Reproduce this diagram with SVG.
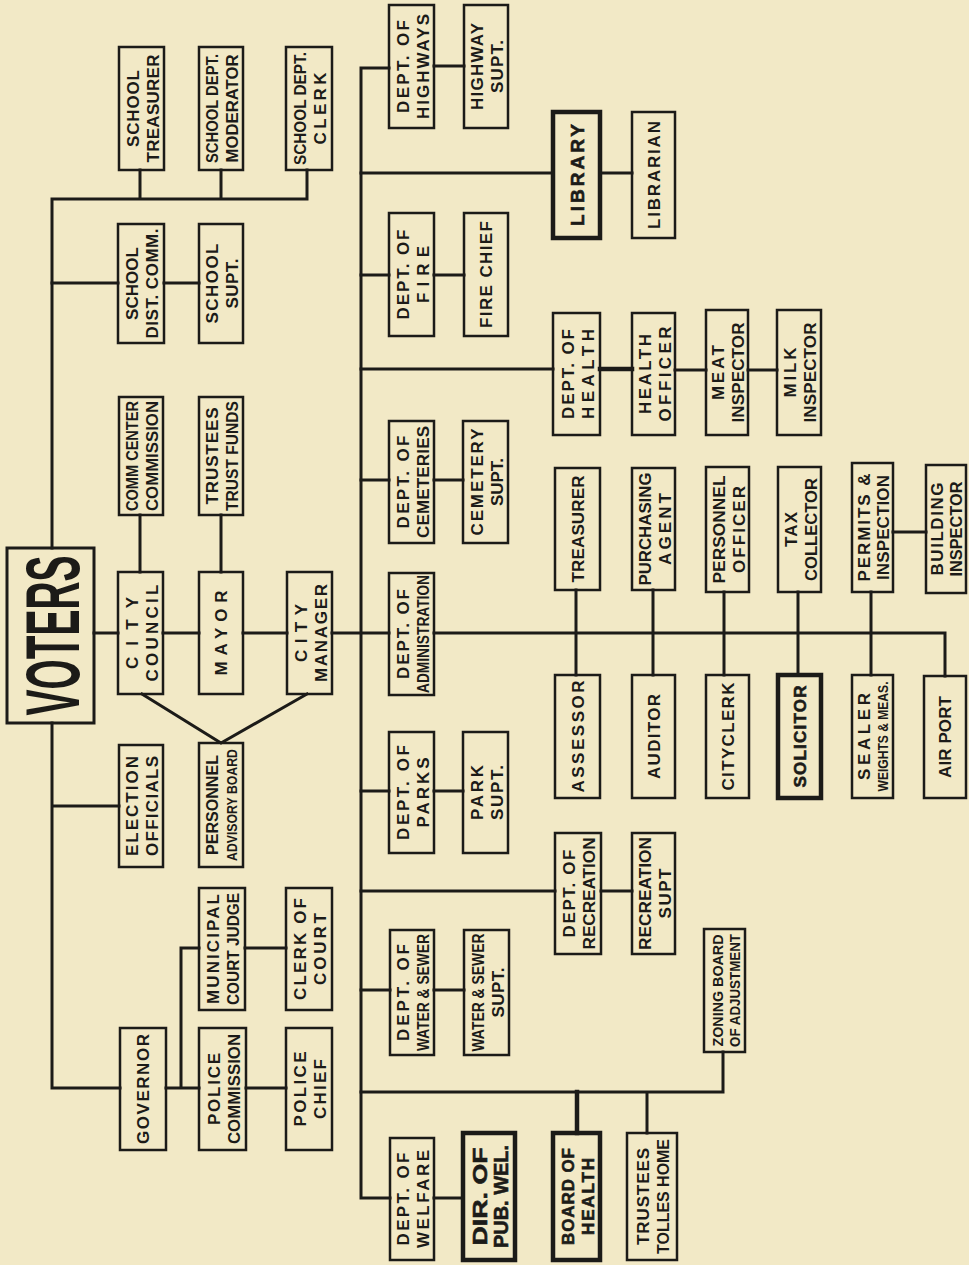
<svg xmlns="http://www.w3.org/2000/svg" width="969" height="1265" viewBox="0 0 969 1265">
<style>
.n rect{fill:none;stroke:#1c1b18;stroke-width:2.5}
.n.k rect{stroke-width:4.5}
.n text{font-family:"Liberation Sans",Arial,sans-serif;font-weight:bold;font-size:17px;fill:#1c1b18;text-anchor:middle}
.n text.s{font-size:14px}
.n.k text{stroke:#1c1b18;stroke-width:0.6}
.c path{fill:none;stroke:#1c1b18;stroke-width:3;stroke-linecap:square;stroke-linejoin:miter}
.c path.h{stroke-width:4.5}
</style>
<rect width="969" height="1265" fill="#F2E9C6"/>
<g id="connectors" class="c">
<path d="M52,548 V199 H307 V170 M140,199 V170 M221,199 V170"/>
<path d="M52,283 H118 M164,283 H199"/>
<path d="M52,723 V1088 H120 M52,806 H119"/>
<path d="M166,1088 H199 M246,1088 H286 M181,1088 V948 H199 M245,948 H286"/>
<path d="M94,633 H118 M163,633 H199 M243,633 H287 M332,633 H389 M434,633 H945 V676"/>
<path d="M140,515 V572 M221,515 V572"/>
<path d="M142,694 L221,743 L307,694"/>
<path d="M389,68 H361 V1198 H390 M434,66 H464"/>
<path d="M361,173 H553 M600,173 H632"/>
<path d="M361,275 H389 M434,275 H464"/>
<path d="M361,369 H553 M675,370 H706 M748,370 H777"/>
<path class="h" d="M600,369 H632"/>
<path d="M361,480 H389 M434,480 H463"/>
<path d="M361,791 H389 M434,791 H463"/>
<path d="M361,891 H555 M601,891 H632"/>
<path d="M361,990 H390 M434,990 H464"/>
<path d="M361,1092 H723 V1052 M647,1092 V1133"/>
<path class="h" d="M577,1092 V1133"/>
<path d="M434,1198 H463"/>
<path d="M576,590 V675 M653,590 V675 M724,592 V675 M798,592 V675 M871,592 V675"/>
<path d="M893,532 H926"/>
</g>

<g id="voters" class="n" transform="translate(50.5 635.5)"><rect x="-43.5" y="-87.5" width="87" height="175" style="stroke-width:3"/><g transform="rotate(-90)"><text y="28" textLength="160" lengthAdjust="spacingAndGlyphs" style="font-size:76px">VOTERS</text></g></g>

<g id="school-treasurer" class="n" transform="translate(141.5 108.5)"><rect x="-22.5" y="-61.5" width="45" height="123"/><g transform="rotate(-90)"><text y="-3" textLength="77">SCHOOL</text><text y="17" textLength="108">TREASURER</text></g></g>
<g id="school-dept-moderator" class="n" transform="translate(221 108.5)"><rect x="-22" y="-61.5" width="44" height="123"/><g transform="rotate(-90)"><text y="-3" textLength="109" lengthAdjust="spacingAndGlyphs">SCHOOL DEPT.</text><text y="17" textLength="108" lengthAdjust="spacingAndGlyphs">MODERATOR</text></g></g>
<g id="school-dept-clerk" class="n" transform="translate(309 108.5)"><rect x="-23" y="-61.5" width="46" height="123"/><g transform="rotate(-90)"><text y="-3" textLength="113" lengthAdjust="spacingAndGlyphs">SCHOOL DEPT.</text><text y="17" textLength="72">CLERK</text></g></g>
<g id="school-dist-comm" class="n" transform="translate(141 283.5)"><rect x="-23" y="-59.5" width="46" height="119"/><g transform="rotate(-90)"><text y="-3" textLength="73">SCHOOL</text><text y="17" textLength="110">DIST. COMM.</text></g></g>
<g id="school-supt" class="n" transform="translate(221 283.5)"><rect x="-22" y="-59.5" width="44" height="119"/><g transform="rotate(-90)"><text y="-3" textLength="80">SCHOOL</text><text y="17" textLength="50">SUPT.</text></g></g>
<g id="comm-center-commission" class="n" transform="translate(141 456)"><rect x="-22" y="-59" width="44" height="118"/><g transform="rotate(-90)"><text y="-3" textLength="110" lengthAdjust="spacingAndGlyphs">COMM CENTER</text><text y="17" textLength="110" lengthAdjust="spacingAndGlyphs">COMMISSION</text></g></g>
<g id="trustees-trust-funds" class="n" transform="translate(221 456)"><rect x="-22" y="-59" width="44" height="118"/><g transform="rotate(-90)"><text y="-3" textLength="97">TRUSTEES</text><text y="17" textLength="110" lengthAdjust="spacingAndGlyphs">TRUST FUNDS</text></g></g>
<g id="city-council" class="n" transform="translate(140.5 633)"><rect x="-22.5" y="-61" width="45" height="122"/><g transform="rotate(-90)"><text y="-3" textLength="72">CITY</text><text y="17" textLength="97">COUNCIL</text></g></g>
<g id="mayor" class="n" transform="translate(221 633)"><rect x="-22" y="-61" width="44" height="122"/><g transform="rotate(-90)"><text y="6" textLength="85">MAYOR</text></g></g>
<g id="city-manager" class="n" transform="translate(309.5 633)"><rect x="-22.5" y="-61" width="45" height="122"/><g transform="rotate(-90)"><text y="-3" textLength="58">CITY</text><text y="17" textLength="98">MANAGER</text></g></g>
<g id="election-officials" class="n" transform="translate(141 806)"><rect x="-22" y="-61" width="44" height="122"/><g transform="rotate(-90)"><text y="-3" textLength="100">ELECTION</text><text y="17" textLength="100">OFFICIALS</text></g></g>
<g id="personnel-advisory-board" class="n" transform="translate(221 805)"><rect x="-22" y="-62" width="44" height="124"/><g transform="rotate(-90)"><text y="-3" textLength="100" lengthAdjust="spacingAndGlyphs">PERSONNEL</text><text class="s" y="16" textLength="112" lengthAdjust="spacingAndGlyphs">ADVISORY BOARD</text></g></g>
<g id="municipal-court-judge" class="n" transform="translate(222 949)"><rect x="-23" y="-61" width="46" height="122"/><g transform="rotate(-90)"><text y="-3" textLength="110">MUNICIPAL</text><text y="17" textLength="112" lengthAdjust="spacingAndGlyphs">COURT JUDGE</text></g></g>
<g id="clerk-of-court" class="n" transform="translate(309 949)"><rect x="-23" y="-61" width="46" height="122"/><g transform="rotate(-90)"><text y="-3" textLength="102">CLERK OF</text><text y="17" textLength="72">COURT</text></g></g>
<g id="governor" class="n" transform="translate(143 1089)"><rect x="-23" y="-61" width="46" height="122"/><g transform="rotate(-90)"><text y="6" textLength="110">GOVERNOR</text></g></g>
<g id="police-commission" class="n" transform="translate(222.5 1089)"><rect x="-23.5" y="-61" width="47" height="122"/><g transform="rotate(-90)"><text y="-3" textLength="72">POLICE</text><text y="17" textLength="110" lengthAdjust="spacingAndGlyphs">COMMISSION</text></g></g>
<g id="police-chief" class="n" transform="translate(309 1089)"><rect x="-23" y="-61" width="46" height="122"/><g transform="rotate(-90)"><text y="-3" textLength="75">POLICE</text><text y="17" textLength="60">CHIEF</text></g></g>

<g id="dept-highways" class="n" transform="translate(411.5 66.5)"><rect x="-22.5" y="-61.5" width="45" height="123"/><g transform="rotate(-90)"><text y="-3" textLength="93">DEPT. OF</text><text y="17" textLength="105">HIGHWAYS</text></g></g>
<g id="highway-supt" class="n" transform="translate(486 66.5)"><rect x="-22" y="-61.5" width="44" height="123"/><g transform="rotate(-90)"><text y="-3" textLength="87">HIGHWAY</text><text y="17" textLength="53">SUPT.</text></g></g>
<g id="library" class="n k" transform="translate(576.5 175)"><rect x="-23.5" y="-63" width="47" height="126"/><g transform="rotate(-90)"><text y="7" textLength="102" style="font-size:19px">LIBRARY</text></g></g>
<g id="librarian" class="n" transform="translate(653.5 175)"><rect x="-21.5" y="-63" width="43" height="126"/><g transform="rotate(-90)"><text y="6" textLength="108">LIBRARIAN</text></g></g>
<g id="dept-fire" class="n" transform="translate(411.5 274.5)"><rect x="-22.5" y="-61.5" width="45" height="123"/><g transform="rotate(-90)"><text y="-3" textLength="90">DEPT. OF</text><text y="17" textLength="57">FIRE</text></g></g>
<g id="fire-chief" class="n" transform="translate(486 274.5)"><rect x="-22" y="-61.5" width="44" height="123"/><g transform="rotate(-90)"><text y="6" textLength="107">FIRE CHIEF</text></g></g>
<g id="dept-health" class="n" transform="translate(576.5 374)"><rect x="-23.5" y="-61" width="47" height="122"/><g transform="rotate(-90)"><text y="-3" textLength="90">DEPT. OF</text><text y="17" textLength="90">HEALTH</text></g></g>
<g id="health-officer" class="n" transform="translate(653.5 374)"><rect x="-21.5" y="-61" width="43" height="122"/><g transform="rotate(-90)"><text y="-3" textLength="80">HEALTH</text><text y="17" textLength="95">OFFICER</text></g></g>
<g id="meat-inspector" class="n" transform="translate(727 372.5)"><rect x="-21" y="-62.5" width="42" height="125"/><g transform="rotate(-90)"><text y="-3" textLength="55">MEAT</text><text y="17" textLength="100">INSPECTOR</text></g></g>
<g id="milk-inspector" class="n" transform="translate(799 372.5)"><rect x="-22" y="-62.5" width="44" height="125"/><g transform="rotate(-90)"><text y="-3" textLength="50">MILK</text><text y="17" textLength="100">INSPECTOR</text></g></g>
<g id="dept-cemeteries" class="n" transform="translate(411.5 482)"><rect x="-22.5" y="-61" width="45" height="122"/><g transform="rotate(-90)"><text y="-3" textLength="93">DEPT. OF</text><text y="17" textLength="112">CEMETERIES</text></g></g>
<g id="cemetery-supt" class="n" transform="translate(485.5 482)"><rect x="-22.5" y="-61" width="45" height="122"/><g transform="rotate(-90)"><text y="-3" textLength="107">CEMETERY</text><text y="17" textLength="48">SUPT.</text></g></g>
<g id="dept-administration" class="n" transform="translate(411.5 634)"><rect x="-22.5" y="-61" width="45" height="122"/><g transform="rotate(-90)"><text y="-3" textLength="90">DEPT. OF</text><text y="17" textLength="118" lengthAdjust="spacingAndGlyphs">ADMINISTRATION</text></g></g>
<g id="treasurer" class="n" transform="translate(577.5 529)"><rect x="-22.5" y="-61" width="45" height="122"/><g transform="rotate(-90)"><text y="6" textLength="107">TREASURER</text></g></g>
<g id="purchasing-agent" class="n" transform="translate(653.5 529)"><rect x="-21.5" y="-61" width="43" height="122"/><g transform="rotate(-90)"><text y="-3" textLength="113" lengthAdjust="spacingAndGlyphs">PURCHASING</text><text y="17" textLength="72">AGENT</text></g></g>
<g id="assessor" class="n" transform="translate(577.5 736.5)"><rect x="-22.5" y="-61.5" width="45" height="123"/><g transform="rotate(-90)"><text y="6" textLength="112">ASSESSOR</text></g></g>
<g id="auditor" class="n" transform="translate(653.5 736.5)"><rect x="-21.5" y="-61.5" width="43" height="123"/><g transform="rotate(-90)"><text y="6" textLength="85">AUDITOR</text></g></g>
<g id="dept-parks" class="n" transform="translate(411.5 792.5)"><rect x="-22.5" y="-60.5" width="45" height="121"/><g transform="rotate(-90)"><text y="-3" textLength="95">DEPT. OF</text><text y="17" textLength="70">PARKS</text></g></g>
<g id="park-supt" class="n" transform="translate(485.5 792.5)"><rect x="-22.5" y="-60.5" width="45" height="121"/><g transform="rotate(-90)"><text y="-3" textLength="55">PARK</text><text y="17" textLength="55">SUPT.</text></g></g>
<g id="personnel-officer" class="n" transform="translate(727.5 529.5)"><rect x="-21.5" y="-62.5" width="43" height="125"/><g transform="rotate(-90)"><text y="-3" textLength="108" lengthAdjust="spacingAndGlyphs">PERSONNEL</text><text y="17" textLength="87">OFFICER</text></g></g>
<g id="tax-collector" class="n" transform="translate(799.5 529.5)"><rect x="-21.5" y="-62.5" width="43" height="125"/><g transform="rotate(-90)"><text y="-3" textLength="35">TAX</text><text y="17" textLength="103" lengthAdjust="spacingAndGlyphs">COLLECTOR</text></g></g>
<g id="permits-inspection" class="n" transform="translate(872.5 527.5)"><rect x="-20.5" y="-64.5" width="41" height="129"/><g transform="rotate(-90)"><text y="-3" textLength="108">PERMITS &amp;</text><text y="16" textLength="105">INSPECTION</text></g></g>
<g id="building-inspector" class="n" transform="translate(946 529)"><rect x="-20" y="-64" width="40" height="128"/><g transform="rotate(-90)"><text y="-3" textLength="93">BUILDING</text><text y="16" textLength="95" lengthAdjust="spacingAndGlyphs">INSPECTOR</text></g></g>
<g id="city-clerk" class="n" transform="translate(727.5 736.5)"><rect x="-21.5" y="-61.5" width="43" height="123"/><g transform="rotate(-90)"><text y="6" textLength="108">CITYCLERK</text></g></g>
<g id="solicitor" class="n k" transform="translate(799.5 736.5)"><rect x="-21.5" y="-61.5" width="43" height="123"/><g transform="rotate(-90)"><text y="6" textLength="102">SOLICITOR</text></g></g>
<g id="sealer" class="n" transform="translate(872.5 736.5)"><rect x="-20.5" y="-61.5" width="41" height="123"/><g transform="rotate(-90)"><text y="-3" textLength="87">SEALER</text><text class="s" y="15" textLength="110" lengthAdjust="spacingAndGlyphs">WEIGHTS &amp; MEAS.</text></g></g>
<g id="airport" class="n" transform="translate(945 737)"><rect x="-21" y="-61" width="42" height="122"/><g transform="rotate(-90)"><text y="6" textLength="82">AIR PORT</text></g></g>
<g id="dept-recreation" class="n" transform="translate(578 893.5)"><rect x="-23" y="-60.5" width="46" height="121"/><g transform="rotate(-90)"><text y="-3" textLength="88">DEPT. OF</text><text y="17" textLength="112" lengthAdjust="spacingAndGlyphs">RECREATION</text></g></g>
<g id="recreation-supt" class="n" transform="translate(653.5 893.5)"><rect x="-21.5" y="-60.5" width="43" height="121"/><g transform="rotate(-90)"><text y="-3" textLength="113" lengthAdjust="spacingAndGlyphs">RECREATION</text><text y="17" textLength="50">SUPT</text></g></g>
<g id="dept-water-sewer" class="n" transform="translate(412 992.5)"><rect x="-22" y="-62.5" width="44" height="125"/><g transform="rotate(-90)"><text y="-3" textLength="97">DEPT. OF</text><text y="17" textLength="117" lengthAdjust="spacingAndGlyphs">WATER &amp; SEWER</text></g></g>
<g id="water-sewer-supt" class="n" transform="translate(486.5 992.5)"><rect x="-22.5" y="-62.5" width="45" height="125"/><g transform="rotate(-90)"><text y="-3" textLength="118" lengthAdjust="spacingAndGlyphs">WATER &amp; SEWER</text><text y="17" textLength="50">SUPT.</text></g></g>
<g id="zoning-board" class="n" transform="translate(724.5 990.5)"><rect x="-20.5" y="-61.5" width="41" height="123"/><g transform="rotate(-90)"><text class="s" y="-2" textLength="112" lengthAdjust="spacingAndGlyphs">ZONING BOARD</text><text class="s" y="15" textLength="113" lengthAdjust="spacingAndGlyphs">OF ADJUSTMENT</text></g></g>
<g id="board-of-health" class="n k" transform="translate(576.5 1196.5)"><rect x="-23.5" y="-63.5" width="47" height="127"/><g transform="rotate(-90)"><text y="-3" textLength="97">BOARD OF</text><text y="17" textLength="77">HEALTH</text></g></g>
<g id="trustees-tolles-home" class="n" transform="translate(652 1196.5)"><rect x="-25" y="-63.5" width="50" height="127"/><g transform="rotate(-90)"><text y="-3" textLength="97">TRUSTEES</text><text y="17" textLength="115" lengthAdjust="spacingAndGlyphs">TOLLES HOME</text></g></g>
<g id="dept-welfare" class="n" transform="translate(412 1199)"><rect x="-22" y="-61" width="44" height="122"/><g transform="rotate(-90)"><text y="-3" textLength="93">DEPT. OF</text><text y="17" textLength="98">WELFARE</text></g></g>
<g id="dir-pub-wel" class="n k" transform="translate(489 1196.5)"><rect x="-26" y="-63.5" width="52" height="127"/><g transform="rotate(-90)"><text y="-2" textLength="98" lengthAdjust="spacingAndGlyphs" style="font-size:21px">DIR. OF</text><text y="19" textLength="103" lengthAdjust="spacingAndGlyphs" style="font-size:21px">PUB. WEL.</text></g></g>
</svg>
